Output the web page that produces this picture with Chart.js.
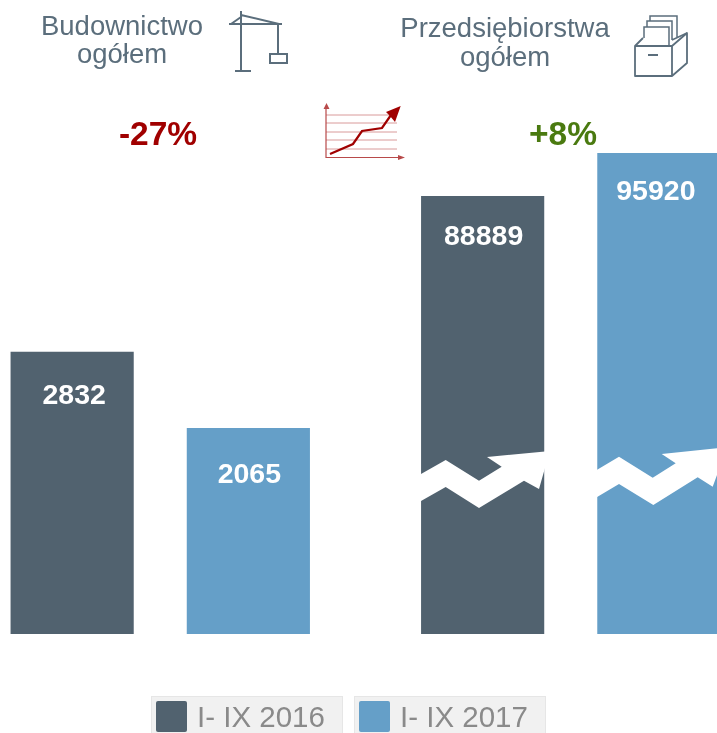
<!DOCTYPE html>
<html lang="pl"><head><meta charset="utf-8">
<script src="https://cdn.jsdelivr.net/npm/chart.js@4"></script>
<style>
html,body{margin:0;padding:0;background:#fff;width:717px;height:733px;overflow:hidden;font-family:"Liberation Sans",Arial,sans-serif}
#wrap{position:relative;width:717px;height:733px;overflow:hidden}
canvas{position:absolute;left:-45px;top:0}
svg{position:absolute;left:0;top:0}
.t{position:absolute;white-space:nowrap;line-height:1}
.title{color:#5b6e7c;font-size:27.5px;text-align:center;transform:translateX(-50%)}
.pct{font-weight:bold;font-size:33.5px;transform:translateX(-50%)}
.tile{position:absolute;top:696px;height:37px;box-sizing:border-box;background:#f1f1f1;border:1px solid #e6e6e6;border-bottom:none}
.sw{position:absolute;top:701px;width:31px;height:31px;border-radius:2px}
.lg{color:#8a8a8a;font-size:29.5px;top:702px}
</style></head><body>
<div id="wrap">
<canvas id="c" width="821" height="634"></canvas>
<svg width="717" height="733" viewBox="0 0 717 733" fill="none">
  <g fill="#fff">
    <path d="M421 474L445.700 460L479 480.700L501.700 466.700L487 457L545 451.500L545 468L539 489L524 480.700L479 508L445.700 487L421 501Z"/>
    <path d="M596.700 470L619 456.700L652.700 477.700L675.700 463.300L661.700 454L720 448L720 466.700L712.700 486.700L697.700 477.300L653.300 505L619 484L596.700 497.300Z"/>
  </g>
  <g stroke="#5b6e7c" stroke-width="2">
    <path d="M241 11V71M235 71H251M229 24H282M231 24L241 17M241 15L279 24M278 24V54M270 54H287V63H270Z"/>
    <path d="M635 46H672V76H635ZM672 46L687 33V63L672 76M635 46L643 38" stroke-width="1.800" stroke-linejoin="round"/>
    <path d="M644 38V27H669V46M647 27V21H672V40M650 21V16H677V37M672 40L687 33" stroke-width="1.500"/>
    <path d="M648 55H658"/>
  </g>
  <g stroke="#d99a9a" stroke-width="1">
    <path d="M326 115H397M326 123H397M326 132H397M326 140H397M326 149H397"/>
  </g>
  <g stroke="#b84a4a" stroke-width="1.200"><path d="M326 158V108M326 157.500H402"/></g>
  <path d="M326.500 103L323.500 109H329.500ZM405 157.500L398 155V160Z" fill="#b84a4a"/>
  <path d="M330 154L353 144L362 131L382 128L391 115" stroke="#a00000" stroke-width="2.200"/>
  <path d="M400.700 106L386 112L390 116L395 122Z" fill="#a00000"/>
</svg>
<div class="t title" style="left:122px;top:12px">Budownictwo</div>
<div class="t title" style="left:122px;top:40px">ogółem</div>
<div class="t title" style="left:505px;top:14px">Przedsiębiorstwa</div>
<div class="t title" style="left:505px;top:43px">ogółem</div>
<div class="t pct" style="left:158px;top:117px;color:#a00000">-27%</div>
<div class="t pct" style="left:563px;top:117px;color:#4a7a10">+8%</div>
<div class="tile" style="left:151px;width:192px"></div>
<div class="sw" style="left:156px;background:#51626f"></div>
<div class="t lg" style="left:197px">I- IX 2016</div>
<div class="tile" style="left:354px;width:192px"></div>
<div class="sw" style="left:359px;background:#659fc8"></div>
<div class="t lg" style="left:400px">I- IX 2017</div>
</div>
<script>
const categories = ["Budownictwo ogółem", "Przedsiębiorstwa ogółem"];
const seriesNames = ["I- IX 2016", "I- IX 2017"];
const construction2016 = [2832, null];
const construction2017 = [2065, null];
const enterprises2016 = [null, 88889];
const enterprises2017 = [null, 95920];
const colorDark = "#51626f";
const colorLight = "#659fc8";

const labelShift = [[2, 44], [1, 47], [1, 41], [-3, 39]];
const valueLabels = {
  id: "valueLabels",
  afterDatasetsDraw(chart) {
    const ctx = chart.ctx;
    ctx.save();
    ctx.fillStyle = "#fff";
    ctx.font = "bold 28.5px 'Liberation Sans', Arial, sans-serif";
    ctx.textAlign = "center";
    ctx.textBaseline = "middle";
    chart.data.datasets.forEach((ds, i) => {
      chart.getDatasetMeta(i).data.forEach((el, j) => {
        const v = ds.data[j];
        if (v === null) return;
        ctx.fillText(String(v), el.x + labelShift[i][0], el.y + labelShift[i][1]);
      });
    });
    ctx.restore();
  }
};
const bar = {barPercentage: 0.699, categoryPercentage: 0.8585, skipNull: true, borderWidth: 0};
new Chart(document.getElementById("c"), {
  type: "bar",
  data: {
    labels: categories,
    datasets: [
      {label: seriesNames[0], data: construction2016, backgroundColor: colorDark, yAxisID: "y", ...bar},
      {label: seriesNames[1], data: construction2017, backgroundColor: colorLight, yAxisID: "y", ...bar},
      {label: seriesNames[0], data: enterprises2016, backgroundColor: colorDark, yAxisID: "y2", ...bar},
      {label: seriesNames[1], data: enterprises2017, backgroundColor: colorLight, yAxisID: "y2", ...bar}
    ]
  },
  options: {
    responsive: false, animation: false,
    layout: {padding: 0},
    plugins: {legend: {display: false}, tooltip: {enabled: false}},
    scales: {
      x: {display: false},
      y: {display: false, min: 0, max: 6359},
      y2: {display: false, min: 17271, max: 120934}
    }
  },
  plugins: [valueLabels]
});
</script>
</body></html>
